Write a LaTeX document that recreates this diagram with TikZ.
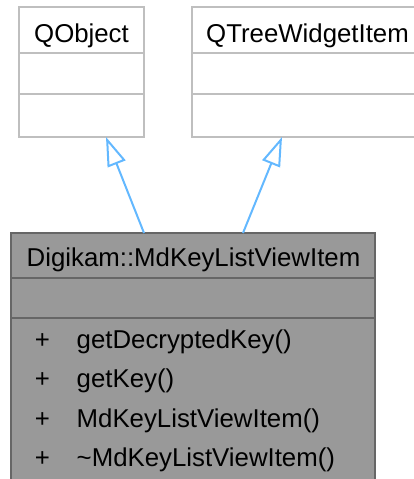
\documentclass[tikz,border=0pt]{standalone}
\usepackage{fontspec}
\setmainfont{Liberation Sans}
\usetikzlibrary{arrows.meta}
\definecolor{edgegray}{HTML}{BFBFBF}
\definecolor{maingray}{HTML}{999999}
\definecolor{mainborder}{HTML}{666666}
\definecolor{inhblue}{HTML}{63B8FF}
\tikzset{
  basebox/.style={draw=edgegray, line width=2pt, fill=white, rectangle, inner sep=0pt},
  mainbox/.style={draw=mainborder, line width=2pt, fill=maingray, rectangle, inner sep=0pt},
  lbl/.style={font=\fontsize{25.8}{28}\selectfont, inner sep=0pt, anchor=base},
  lblw/.style={font=\fontsize{25.8}{28}\selectfont, inner sep=0pt, anchor=base west},
  inh/.style={draw=inhblue, line width=2pt, -{Triangle[open, length=29pt, width=19pt, line width=2pt]}},
}
\begin{document}
\begin{tikzpicture}[x=1pt, y=-1pt]
\useasboundingbox (0,0) rectangle (414,479);
% QObject
\node[basebox, minimum width=125pt, minimum height=130pt] (qobject) at (81.5,72) {};
\draw[edgegray, line width=2pt] (19,53) -- (144,53) (19,94) -- (144,94);
\node[lbl] (qobjectname) at (81.5,42) {QObject};
% QTreeWidgetItem
\node[basebox, minimum width=231pt, minimum height=130pt] (qtwi) at (307.5,72) {};
\draw[edgegray, line width=2pt] (192,53) -- (423,53) (192,94) -- (423,94);
\node[lbl] (qtwiname) at (307.5,42) {QTreeWidgetItem};
% Main class
\node[mainbox, minimum width=364pt, minimum height=270pt] (main) at (193,368) {};
\draw[mainborder, line width=2pt] (11,278) -- (375,278) (11,318) -- (375,318);
\node[lbl] (mainname) at (193.5,266) {Digikam::MdKeyListViewItem};
\node[lbl] (p1) at (42.5,348) {+};
\node[lblw] (m1) at (76.5,348) {getDecryptedKey()};
\node[lbl] (p2) at (42.5,387.5) {+};
\node[lblw] (m2) at (76.5,387.5) {getKey()};
\node[lbl] (p3) at (42.5,427) {+};
\node[lblw] (m3) at (76.5,427) {MdKeyListViewItem()};
\node[lbl] (p4) at (42.5,466.5) {+};
\node[lblw] (m4) at (76.5,466.5) {\char"007EMdKeyListViewItem()};
% inheritance
\coordinate (a1s) at (144,233);
\coordinate (a1e) at (106,137);
\coordinate (a2s) at (243,233);
\coordinate (a2e) at (282,137);
\draw[inh] (a1s) -- (a1e);
\draw[inh] (a2s) -- (a2e);
\end{tikzpicture}
\end{document}
